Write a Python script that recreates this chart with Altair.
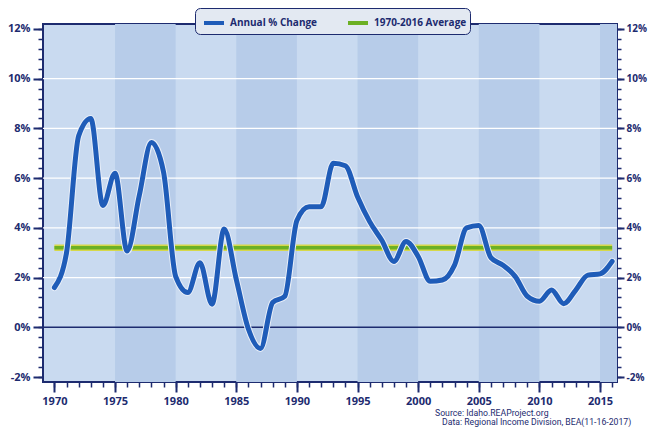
import altair as alt
import pandas as pd

years = list(range(1970, 2017))
annual_change = [
    1.6, 3.0, 7.7, 8.4, 4.9, 6.2, 3.07, 5.3, 7.43, 6.25,
    2.05, 1.4, 2.6, 0.93, 3.95, 1.93, -0.07, -0.85, 1.0, 1.25,
    4.3, 4.85, 4.85, 6.6, 6.5, 5.25, 4.25, 3.5, 2.65, 3.45,
    2.85, 1.85, 1.9, 2.5, 4.0, 4.1, 2.8, 2.5, 2.05, 1.25,
    1.05, 1.5, 0.95, 1.5, 2.1, 2.15, 2.65,
]
avg_years = [1970, 2016]
avg_value = [3.2, 3.2]
series_names = ["Annual % Change", "1970-2016 Average"]
band_starts = [1975, 1985, 1995, 2005, 2015]
band_ends = [1980, 1990, 2000, 2010, 2017]
major_x = [1970, 1975, 1980, 1985, 1990, 1995, 2000, 2005, 2010, 2015]
minor_x = list(range(1970, 2017))
major_y = [-2, 0, 2, 4, 6, 8, 10, 12]
minor_y = [round(-2 + 0.4 * i, 1) for i in range(36)]
grid_y = [2, 4, 6, 8, 10]
source_lines = ["Source: Idaho.REAProject.org",
                "Data: Regional Income Division, BEA(11-16-2017)"]

NAVY = "#1d2b6f"
BLUE = "#1f5cb8"
GREEN = "#6cb024"
YELLOW = "#d6d84a"
LIGHT = "#c9daf0"
DARK = "#b7cce9"
FONT = "Open Sans"

xscale = alt.Scale(domain=[1969.06, 2016.4], nice=False, zero=False)
yscale = alt.Scale(domain=[-2.2, 12.2], nice=False, zero=False)

line_df = pd.DataFrame({"year": years, "value": annual_change, "series": series_names[0]})
avg_df = pd.DataFrame({"year": avg_years, "value": avg_value, "series": series_names[1]})
band_df = pd.DataFrame({"start": band_starts, "end": band_ends})
grid_df = pd.DataFrame({"v": grid_y})
zero_df = pd.DataFrame({"v": [0]})
miny_df = pd.DataFrame({"v": minor_y})
minx_df = pd.DataFrame({"yr": minor_x})


def ax(orient, values, size, labels=True, expr=None, fmt=None, fsize=11, pad=3):
    kw = dict(orient=orient, values=values, tickSize=size, tickWidth=2 if size > 6 else 1.5,
              tickColor=NAVY, domain=False, grid=False, title=None, labels=labels,
              labelFont=FONT, labelFontWeight="bold", labelFontSize=fsize, labelColor=NAVY,
              labelPadding=pad)
    if expr:
        kw["labelExpr"] = expr
    if fmt:
        kw["format"] = fmt
    return alt.Axis(**kw)


color_scale = alt.Scale(domain=series_names, range=[BLUE, GREEN])
legend = alt.Legend(
    orient="none", legendX=152, legendY=-16, direction="horizontal", title=None,
    strokeColor=NAVY, fillColor="#e3e9f2", cornerRadius=5, padding=3,
    symbolType="stroke", symbolStrokeWidth=4, symbolSize=400,
    labelFont=FONT, labelFontWeight="bold", labelFontSize=10, labelColor=NAVY,
    columnPadding=22, symbolOffset=4,
)

bands = alt.Chart(band_df).mark_rect(color=DARK, clip=True).encode(
    x=alt.X("start:Q", scale=xscale, axis=ax("bottom", major_x, 10, fmt="d")),
    x2="end:Q",
)
xminor = alt.Chart(minx_df).mark_rule(opacity=0).encode(
    x=alt.X("yr:Q", scale=xscale, axis=ax("bottom", minor_x, 5, labels=False)),
)
grid = alt.Chart(grid_df).mark_rule(color="white", strokeWidth=1.2).encode(
    y=alt.Y("v:Q", scale=yscale, axis=ax("left", major_y, 10, expr="datum.value + '%'")),
)
zero = alt.Chart(zero_df).mark_rule(color=NAVY, strokeWidth=1.5).encode(
    y=alt.Y("v:Q", scale=yscale,
            axis=ax("right", major_y, 7, expr="datum.value + '%'", fsize=10, pad=2)),
)
yminor_l = alt.Chart(miny_df).mark_rule(opacity=0).encode(
    y=alt.Y("v:Q", scale=yscale, axis=ax("left", minor_y, 5, labels=False)),
)
yminor_r = alt.Chart(miny_df).mark_rule(opacity=0).encode(
    y=alt.Y("v:Q", scale=yscale, axis=ax("right", minor_y, 4, labels=False)),
)
avg_under = alt.Chart(avg_df).mark_line(color=YELLOW, strokeWidth=6.5).encode(
    x=alt.X("year:Q", scale=xscale, axis=None),
    y=alt.Y("value:Q", scale=yscale, axis=None),
)
avg_line = alt.Chart(avg_df).mark_line(strokeWidth=3.5).encode(
    x=alt.X("year:Q", scale=xscale, axis=None),
    y=alt.Y("value:Q", scale=yscale, axis=None),
    color=alt.Color("series:N", scale=color_scale, legend=legend),
)
halo = alt.Chart(line_df).mark_line(color="#e8eef8", strokeWidth=7, interpolate="monotone",
                                    strokeCap="round", strokeJoin="round").encode(
    x=alt.X("year:Q", scale=xscale, axis=None),
    y=alt.Y("value:Q", scale=yscale, axis=None),
)
main = alt.Chart(line_df).mark_line(strokeWidth=5, interpolate="monotone",
                                    strokeCap="round", strokeJoin="round").encode(
    x=alt.X("year:Q", scale=xscale, axis=None),
    y=alt.Y("value:Q", scale=yscale, axis=None),
    color=alt.Color("series:N", scale=color_scale, legend=legend),
)
src1 = alt.Chart(pd.DataFrame({"t": [source_lines[0]]})).mark_text(
    align="left", baseline="alphabetic", font="Roboto", fontSize=8.7,
    color=NAVY).encode(x=alt.value(392), y=alt.value(392), text="t:N")
src2 = alt.Chart(pd.DataFrame({"t": [source_lines[1]]})).mark_text(
    align="left", baseline="alphabetic", font="Roboto", fontSize=8.7,
    color=NAVY).encode(x=alt.value(399), y=alt.value(401), text="t:N")

chart = alt.layer(
    bands, xminor, grid, yminor_l, yminor_r, zero, avg_under, avg_line, halo, main, src1, src2
).resolve_axis(x="independent", y="independent").properties(
    width=574, height=358,
    autosize=alt.AutoSizeParams(type="none"),
    padding={"left": 35, "top": 16, "right": 31, "bottom": 46},
).configure_view(fill=LIGHT, stroke=NAVY, strokeWidth=2)

chart.save("out.html", embed_options={"renderer": "svg", "actions": False})
